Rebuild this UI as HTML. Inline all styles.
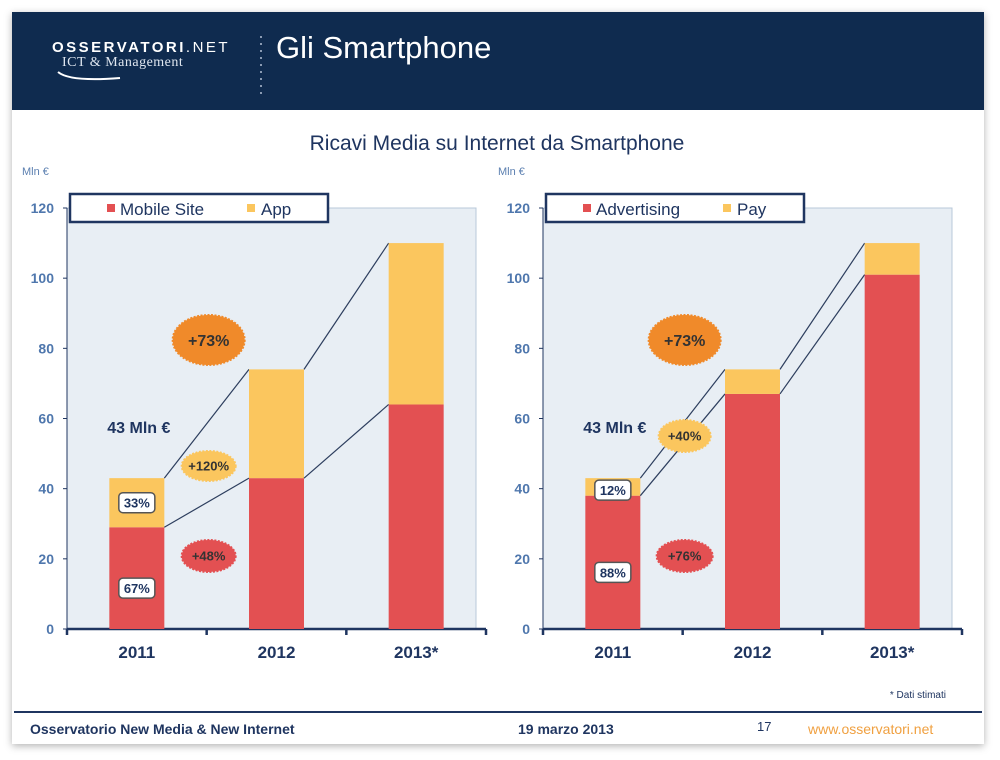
<!DOCTYPE html>
<html><head><meta charset="utf-8"><style>
body{margin:0;background:#fff;width:1000px;height:755px;overflow:hidden;font-family:"Liberation Sans",sans-serif}
</style></head><body>
<svg id="s" width="1000" height="755" xmlns="http://www.w3.org/2000/svg">
<defs><filter id="sh" x="-5%" y="-5%" width="110%" height="110%"><feDropShadow dx="0" dy="2" stdDeviation="4" flood-color="#000" flood-opacity="0.3"/></filter></defs>
<rect x="12" y="12" width="972" height="732" fill="#fff" filter="url(#sh)"/>
<rect x="12" y="12" width="972" height="98" fill="#0f2b4f"/>
<text x="52" y="52" fill="#fff" font-size="15" letter-spacing="2.5" font-weight="bold">OSSERVATORI<tspan font-weight="normal">.NET</tspan></text>
<text x="62" y="66" fill="#dfe6ef" font-family="Liberation Serif" font-size="14" letter-spacing="0.5">ICT &amp; Management</text>
<path d="M58 72 Q70 82 120 78" stroke="#fff" stroke-width="2" fill="none"/>
<line x1="261" y1="36" x2="261" y2="94" stroke="#8a9bb3" stroke-width="2" stroke-dasharray="2,5"/>
<text x="276" y="58" fill="#fff" font-size="31">Gli Smartphone</text>
<text x="497" y="150" fill="#1f3560" font-size="21" text-anchor="middle">Ricavi Media su Internet da Smartphone</text>
<text x="22" y="175" fill="#5b7fb0" font-size="11">Mln €</text>
<text x="498" y="175" fill="#5b7fb0" font-size="11">Mln €</text>
<line x1="14" y1="712" x2="982" y2="712" stroke="#1f3560" stroke-width="2"/>
<text x="30" y="734" fill="#1f3560" font-size="14" font-weight="bold">Osservatorio New Media &amp; New Internet</text>
<text x="518" y="734" fill="#1f3560" font-size="14" font-weight="bold">19 marzo 2013</text>
<text x="757" y="731" fill="#1f3560" font-size="13">17</text>
<text x="808" y="734" fill="#f0a040" font-size="14">www.osservatori.net</text>
<text x="946" y="698" fill="#1f3560" font-size="10" text-anchor="end">* Dati stimati</text>
<g id="g"></g>
</svg>
<script>
const categories=["2011","2012","2013*"];
const mobileSite=[29,43,64];
const app=[14,31,46];
const advertising=[38,67,101];
const pay=[5,7,9];
const yTicks=[0,20,40,60,80,100,120];
const growthLeft=["+73%","+120%","+48%"];
const growthRight=["+73%","+40%","+76%"];
const NS="http://www.w3.org/2000/svg";
const g=document.getElementById('g');
function mk(t,a,p){const e=document.createElementNS(NS,t);for(const k in a)e.setAttribute(k,a[k]);(p||g).appendChild(e);return e;}
function chart(x0,x1,s1,s2,n1,n2,key,growth){
  const y0=629,yTop=208;
  const y=v=>y0-(v/120)*(y0-yTop);
  const step=(x1-x0)/categories.length;
  const cx=i=>x0+step*(i+0.5);
  const bw=55;
  const bg=mk('rect',{x:x0,y:yTop,width:x1-x0-10,height:y0-yTop,fill:'#e8eef4',stroke:'#b8c8da'});
  
  yTicks.forEach(v=>{const t=mk('text',{x:x0-13,y:y(v)+5,fill:'#4f77ad','font-size':14,'font-weight':'bold','text-anchor':'end'});t.textContent=v;
    
    mk('line',{x1:x0-4,x2:x0,y1:y(v),y2:y(v),stroke:'#1f3560'});});
  mk('line',{x1:x0,x2:x0,y1:yTop,y2:y0,stroke:'#1f3560'});
  const ax=mk('line',{x1:x0,x2:x1,y1:y0,y2:y0,stroke:'#1f3560','stroke-width':2.5});
  
  for(let i=0;i<=categories.length;i++)mk('line',{x1:x0+step*i,x2:x0+step*i,y1:y0,y2:y0+6,stroke:'#1f3560','stroke-width':2.5});
  categories.forEach((c,i)=>{
    const r=mk('rect',{x:cx(i)-bw/2,y:y(s1[i]),width:bw,height:y0-y(s1[i]),fill:'#e35052'});
    
    const o=mk('rect',{x:cx(i)-bw/2,y:y(s1[i]+s2[i]),width:bw,height:y(s1[i])-y(s1[i]+s2[i]),fill:'#fbc65e'});
    
    const t=mk('text',{x:cx(i),y:y0+29,fill:'#1f3560','font-size':17,'font-weight':'bold','text-anchor':'middle'});t.textContent=c;
    
    if(i<categories.length-1){
      [[s1[i],s1[i+1]],[s1[i]+s2[i],s1[i+1]+s2[i+1]]].forEach(p=>mk('line',{x1:cx(i)+bw/2,y1:y(p[0]),x2:cx(i+1)-bw/2,y2:y(p[1]),stroke:'#2d3e5e','stroke-width':1.2}));
    }
  });
  const lg=mk('rect',{x:x0+3,y:194,width:258,height:28,fill:'#fff',stroke:'#1f3560','stroke-width':2.5});
  
  mk('rect',{x:x0+40,y:204,width:8,height:8,fill:'#e35052'});
  const l1=mk('text',{x:x0+53,y:215,fill:'#1f3560','font-size':17});l1.textContent=n1;
  mk('rect',{x:x0+180,y:204,width:8,height:8,fill:'#fbc65e'});
  const l2=mk('text',{x:x0+194,y:215,fill:'#1f3560','font-size':17});l2.textContent=n2;
  const tot=s1[0]+s2[0];
  const tl=mk('text',{x:cx(0)+2,y:y(tot)-45,fill:'#1f3560','font-size':16,'font-weight':'bold','text-anchor':'middle'});tl.textContent=tot+' Mln €';
  
  const p1=Math.round(s1[0]/tot*100),p2=100-p1;
  [[p2,Math.max((y(tot)+y(s1[0]))/2,y(tot)+12)],[p1,y(s1[0]/2)+10]].forEach(b=>{
    mk('rect',{x:cx(0)-18,y:b[1]-10,width:36,height:20,rx:4,fill:'#fff',stroke:'#555','stroke-width':1.5});
    const t=mk('text',{x:cx(0),y:b[1]+5,fill:'#1f3560','font-size':13,'font-weight':'bold','text-anchor':'middle'});t.textContent=b[0]+'%';
    
  });
  const bub=(bx,by,rx,ry,fill,txt,fs,nm)=>{mk('ellipse',{cx:bx,cy:by,rx:rx,ry:ry,fill:fill,stroke:fill,'stroke-dasharray':'2,1.5','stroke-width':2});
    const t=mk('text',{x:bx,y:by+fs*0.36,fill:'#333','font-size':fs,'font-weight':'bold','text-anchor':'middle'});t.textContent=txt;
    };
  const mid=(cx(0)+cx(1))/2;
  bub(mid+2,340,36,25,'#f08a2a',growth[0],16,'growth-total');
  bub(mid+2,key==='left'?466:436,key==='left'?27:26,key==='left'?15:16,'#fbc65e',growth[1],13,'growth-'+n2.toLowerCase());
  bub(mid+2,556,key==='left'?27:28,16,'#e35052',growth[2],13,'growth-'+n1.toLowerCase().replace(' ','-'));
}
chart(67,486,mobileSite,app,'Mobile Site','App','left',growthLeft);
chart(543,962,advertising,pay,'Advertising','Pay','right',growthRight);
</script>
</body></html>
